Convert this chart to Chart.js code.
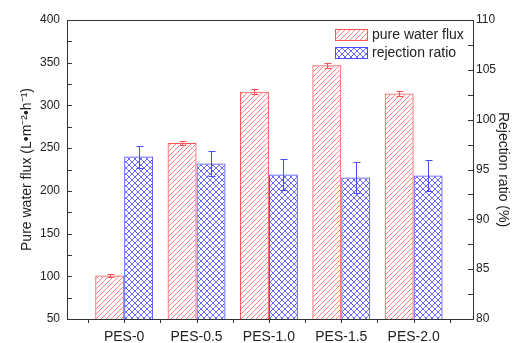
<!DOCTYPE html>
<html>
<head>
<meta charset="utf-8">
<script src="https://cdn.jsdelivr.net/npm/chart.js@4.4.0/dist/chart.umd.min.js"></script>
<style>
  html, body { margin: 0; padding: 0; background: #fff; }
  canvas { display: block; }
</style>
</head>
<body>
<canvas id="chart" width="512" height="343"></canvas>
<script>
const categories = ['PES-0', 'PES-0.5', 'PES-1.0', 'PES-1.5', 'PES-2.0'];
const fluxValues = [101, 256, 316, 347, 314];
const fluxErrors = [2, 2, 3, 3, 3];
const rejectionValues = [96.3, 95.6, 94.5, 94.2, 94.4];
const rejectionErrors = [1.1, 1.3, 1.6, 1.6, 1.6];

const FONT = "'Liberation Sans', Arial, sans-serif";
const TEXT = '#222';
const RED = '#ff5252';
const BLUE = '#4a4aff';

// Small tiled canvases used as bar fills: '/' hatching and a diagonal cross-hatch
function hatch(color, size, cross) {
  const c = document.createElement('canvas');
  c.width = c.height = size;
  const g = c.getContext('2d');
  g.strokeStyle = color;
  g.lineWidth = 1;
  g.beginPath();
  g.moveTo(0, size); g.lineTo(size, 0);
  g.moveTo(-1, 1); g.lineTo(1, -1);
  g.moveTo(size - 1, size + 1); g.lineTo(size + 1, size - 1);
  if (cross) {
    g.moveTo(0, 0); g.lineTo(size, size);
    g.moveTo(-1, size - 1); g.lineTo(1, size + 1);
    g.moveTo(size - 1, -1); g.lineTo(size + 1, 1);
  }
  g.stroke();
  return g.createPattern(c, 'repeat');
}

const redHatch = hatch('#ff8080', 5, false);
const blueHatch = hatch('#6a6aff', 6, true);

// Box frame plus tick marks (inward on y, outward on x, with minor ticks)
const framePlugin = {
  id: 'frame',
  afterDatasetsDraw(chart) {
    const { ctx, chartArea: a, scales } = chart;
    ctx.save();
    ctx.strokeStyle = '#333';
    ctx.lineWidth = 1;
    ctx.strokeRect(a.left + 0.5, a.top + 0.5, a.right - a.left, a.bottom - a.top);
    ctx.beginPath();
    for (let v = 50; v <= 400; v += 25) {
      const y = Math.round(scales.y.getPixelForValue(v)) + 0.5;
      ctx.moveTo(a.left, y); ctx.lineTo(a.left + 5, y);
    }
    for (let v = 80; v <= 110; v += 2.5) {
      const y = Math.round(scales.y1.getPixelForValue(v)) + 0.5;
      ctx.moveTo(a.right, y); ctx.lineTo(a.right - 5, y);
    }
    for (let v = -0.5; v <= categories.length - 0.5; v += 0.5) {
      const x = Math.round(scales.x.getPixelForValue(v)) + 0.5;
      ctx.moveTo(x, a.bottom); ctx.lineTo(x, a.bottom + 4);
    }
    ctx.stroke();
    ctx.restore();
  }
};

// Error bars drawn at each bar's centre, using the bar's own value axis
const errorBarPlugin = {
  id: 'errorBars',
  afterDatasetsDraw(chart) {
    const { ctx } = chart;
    chart.data.datasets.forEach((ds, di) => {
      const meta = chart.getDatasetMeta(di);
      const scale = chart.scales[meta.yAxisID];
      ctx.save();
      ctx.strokeStyle = ds.borderColor;
      ctx.lineWidth = 1;
      ctx.beginPath();
      meta.data.forEach((bar, i) => {
        const v = ds.data[i].y;
        const e = ds.errors[i];
        const x = Math.round(bar.x) + 0.5;
        const top = Math.round(scale.getPixelForValue(v + e)) + 0.5;
        const bot = Math.round(scale.getPixelForValue(v - e)) + 0.5;
        ctx.moveTo(x, top); ctx.lineTo(x, bot);
        ctx.moveTo(x - 3, top); ctx.lineTo(x + 4, top);
        ctx.moveTo(x - 3, bot); ctx.lineTo(x + 4, bot);
      });
      ctx.stroke();
      ctx.restore();
    });
  }
};

// Legend inside the top-right corner of the plot
const insideLegend = {
  id: 'insideLegend',
  afterDraw(chart) {
    const { ctx, chartArea: a } = chart;
    const x0 = a.right - 138;
    let y0 = a.top + 9;
    ctx.save();
    ctx.font = `14px ${FONT}`;
    ctx.textBaseline = 'middle';
    chart.data.datasets.forEach(ds => {
      ctx.fillStyle = ds.backgroundColor;
      ctx.fillRect(x0, y0, 32, 11);
      ctx.strokeStyle = ds.borderColor;
      ctx.strokeRect(x0 + 0.5, y0 + 0.5, 32, 11);
      ctx.fillStyle = TEXT;
      ctx.fillText(ds.label, x0 + 37, y0 + 6);
      y0 += 18;
    });
    ctx.restore();
  }
};

new Chart(document.getElementById('chart'), {
  type: 'bar',
  data: {
    datasets: [
      {
        label: 'pure water flux',
        data: categories.map((c, i) => ({ x: i, y: fluxValues[i] })),
        errors: fluxErrors,
        yAxisID: 'y',
        backgroundColor: redHatch,
        borderColor: RED,
        borderWidth: 1,
        barPercentage: 1,
        categoryPercentage: 0.8,
      },
      {
        label: 'rejection ratio',
        data: categories.map((c, i) => ({ x: i, y: rejectionValues[i] })),
        errors: rejectionErrors,
        yAxisID: 'y1',
        backgroundColor: blueHatch,
        borderColor: BLUE,
        borderWidth: 1,
        barPercentage: 1,
        categoryPercentage: 0.8,
      },
    ],
  },
  options: {
    responsive: false,
    animation: false,
    layout: { padding: { top: 20 } },
    plugins: {
      legend: { display: false },
      tooltip: { enabled: false },
    },
    scales: {
      x: {
        type: 'linear',
        offset: false,
        min: -0.79,
        max: 4.82,
        afterBuildTicks: (s) => { s.ticks = categories.map((c, i) => ({ value: i })); },
        afterFit: (s) => { s.height = 24; },
        ticks: {
          autoSkip: false,
          maxRotation: 0,
          padding: 10,
          color: TEXT,
          font: { family: FONT, size: 14 },
          callback: (v) => categories[v],
        },
        grid: { drawOnChartArea: false, drawTicks: false, offset: false },
        border: { display: false },
      },
      y: {
        position: 'left',
        min: 50,
        max: 400,
        afterFit: (s) => { s.width = 67; },
        ticks: { stepSize: 50, padding: 7, color: TEXT, font: { family: FONT, size: 12 } },
        grid: { drawOnChartArea: false, drawTicks: false },
        border: { display: false },
        title: {
          display: true,
          text: 'Pure water flux (L•m⁻²•h⁻¹)',
          color: TEXT,
          font: { family: FONT, size: 14 },
          padding: { top: 19, bottom: 0 },
        },
      },
      y1: {
        position: 'right',
        min: 80,
        max: 110,
        afterFit: (s) => { s.width = 39; },
        ticks: { stepSize: 5, padding: 3, color: TEXT, font: { family: FONT, size: 12 } },
        grid: { drawOnChartArea: false, drawTicks: false },
        border: { display: false },
        title: {
          display: true,
          text: 'Rejection ratio (%)',
          color: TEXT,
          font: { family: FONT, size: 14 },
          padding: { top: 1, bottom: 0 },
        },
      },
    },
  },
  plugins: [framePlugin, errorBarPlugin, insideLegend],
});
</script>
</body>
</html>
